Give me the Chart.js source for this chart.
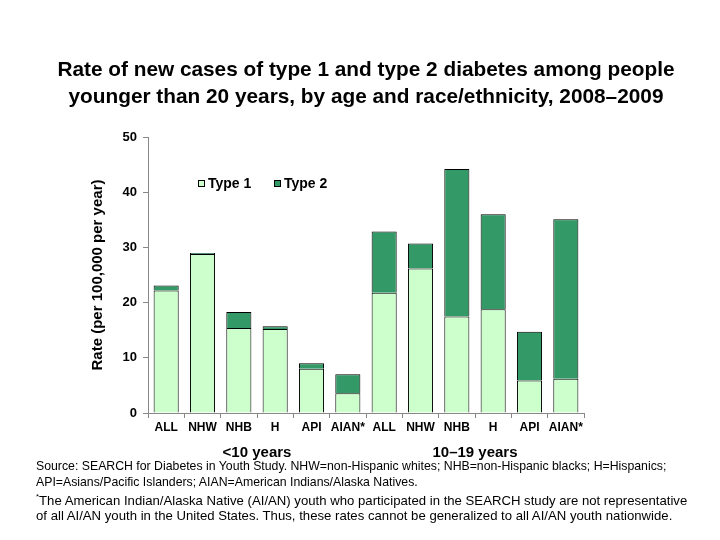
<!DOCTYPE html>
<html>
<head>
<meta charset="utf-8">
<script src="https://cdn.jsdelivr.net/npm/chart.js@4"></script>
<style>
  body { margin: 0; background: #fff; }
  #wrap { position: relative; width: 720px; height: 540px; }
  #title { position: absolute; left: 0; top: 55px; width: 732px; text-align: center;
    font: bold 20.8px "Liberation Sans", Arial, sans-serif; line-height: 27px; color: #000; }
  .note { position: absolute; left: 36px; width: 760px; white-space: nowrap;
    font-family: "Liberation Sans", Arial, sans-serif; color: #000; transform-origin: 0 0; }
  #note1 { top: 458px; font-size: 13px; line-height: 15.5px; transform: scaleX(0.945); }
  #note2 { top: 488.5px; font-size: 13.5px; line-height: 16px; transform: scaleX(0.975); }
  .note sup { font-size: 8px; }
</style>
</head>
<body>
<div id="wrap">
  <canvas id="myChart" width="720" height="540"></canvas>
  <div id="title">Rate of new cases of type 1 and type 2 diabetes among people<br>younger than 20 years, by age and race/ethnicity, 2008–2009</div>
  <div class="note" id="note1">Source: SEARCH for Diabetes in Youth Study. NHW=non-Hispanic whites; NHB=non-Hispanic blacks; H=Hispanics;<br>API=Asians/Pacific Islanders; AIAN=American Indians/Alaska Natives.</div>
  <div class="note" id="note2"><sup>*</sup>The American Indian/Alaska Native (AI/AN) youth who participated in the SEARCH study are not representative<br>of all AI/AN youth in the United States. Thus, these rates cannot be generalized to all AI/AN youth nationwide.</div>
</div>
<script>
const labels = ['ALL','NHW','NHB','H','API','AIAN*','ALL','NHW','NHB','H','API','AIAN*'];
const ageGroups = ['<10 years', '10–19 years'];
const type1 = [22.2, 28.8, 15.4, 15.2, 8.0, 3.6, 21.8, 26.2, 17.5, 18.8, 5.9, 6.2];
const type2 = [0.9, 0.2, 2.9, 0.5, 1.0, 3.4, 11.1, 4.5, 26.7, 17.2, 8.8, 28.9];
const yTicks = [0, 10, 20, 30, 40, 50];

const fontFam = '"Liberation Sans", Arial, sans-serif';

// legend drawn inside the plot area and the age group labels under the axis
const extras = {
    id: 'extras',
    afterDraw(chart) {
        const c = chart.ctx;
        const x = chart.scales.x;
        c.save();
        c.fillStyle = '#000';
        c.font = 'bold 14px ' + fontFam;
        c.textBaseline = 'middle';
        chart.data.datasets.forEach((ds, i) => {
            const bx = 198 + i * 76, by = 180;
            c.fillStyle = ds.backgroundColor;
            c.fillRect(bx, by, 7, 7);
            c.strokeStyle = '#000';
            c.lineWidth = 1;
            c.strokeRect(bx + 0.5, by + 0.5, 6, 6);
            c.fillStyle = '#000';
            c.textAlign = 'left';
            c.fillText(ds.label, bx + 10, by + 4);
        });
        c.font = 'bold 15px ' + fontFam;
        c.textAlign = 'center';
        ageGroups.forEach((g, i) => {
            const mid = (x.getPixelForValue(i * 6 + 2) + x.getPixelForValue(i * 6 + 3)) / 2;
            c.fillText(g, mid, 453);
        });
        c.restore();
    }
};

const ctx = document.getElementById('myChart').getContext('2d');
const myChart = new Chart(ctx, {
    type: 'bar',
    data: {
        labels: labels,
        datasets: [{
            label: 'Type 1',
            data: type1,
            backgroundColor: '#CCFFCC',
            borderColor: '#000',
            borderWidth: 1,
            categoryPercentage: 1,
            barPercentage: 0.69
        }, {
            label: 'Type 2',
            data: type2,
            backgroundColor: '#339966',
            borderColor: '#000',
            borderWidth: 1,
            categoryPercentage: 1,
            barPercentage: 0.69
        }]
    },
    options: {
        responsive: false,
        animation: false,
        layout: { padding: { left: 89, right: 136, top: 137, bottom: 107 } },
        plugins: {
            legend: { display: false },
            tooltip: { enabled: false }
        },
        scales: {
            x: {
                stacked: true,
                afterFit(s) { s.height = 20; },
                grid: { drawOnChartArea: false, tickLength: 5, color: '#888' },
                border: { color: '#888' },
                ticks: { color: '#000', font: { family: fontFam, size: 12, weight: 'bold' }, padding: 2, maxRotation: 0, autoSkip: false }
            },
            y: {
                stacked: true,
                min: 0,
                max: 50,
                afterFit(s) { s.width = 59; },
                afterBuildTicks(s) { s.ticks = yTicks.map(v => ({ value: v })); },
                grid: { drawOnChartArea: false, tickLength: 5, color: '#888' },
                border: { color: '#888' },
                ticks: { color: '#000', font: { family: fontFam, size: 13, weight: 'bold' }, padding: 6 },
                title: {
                    display: true,
                    text: 'Rate (per 100,000 per year)',
                    color: '#000',
                    font: { family: fontFam, size: 15, weight: 'bold' },
                    padding: { top: 0, bottom: 0 }
                }
            }
        }
    },
    plugins: [extras]
});
</script>
</body>
</html>
